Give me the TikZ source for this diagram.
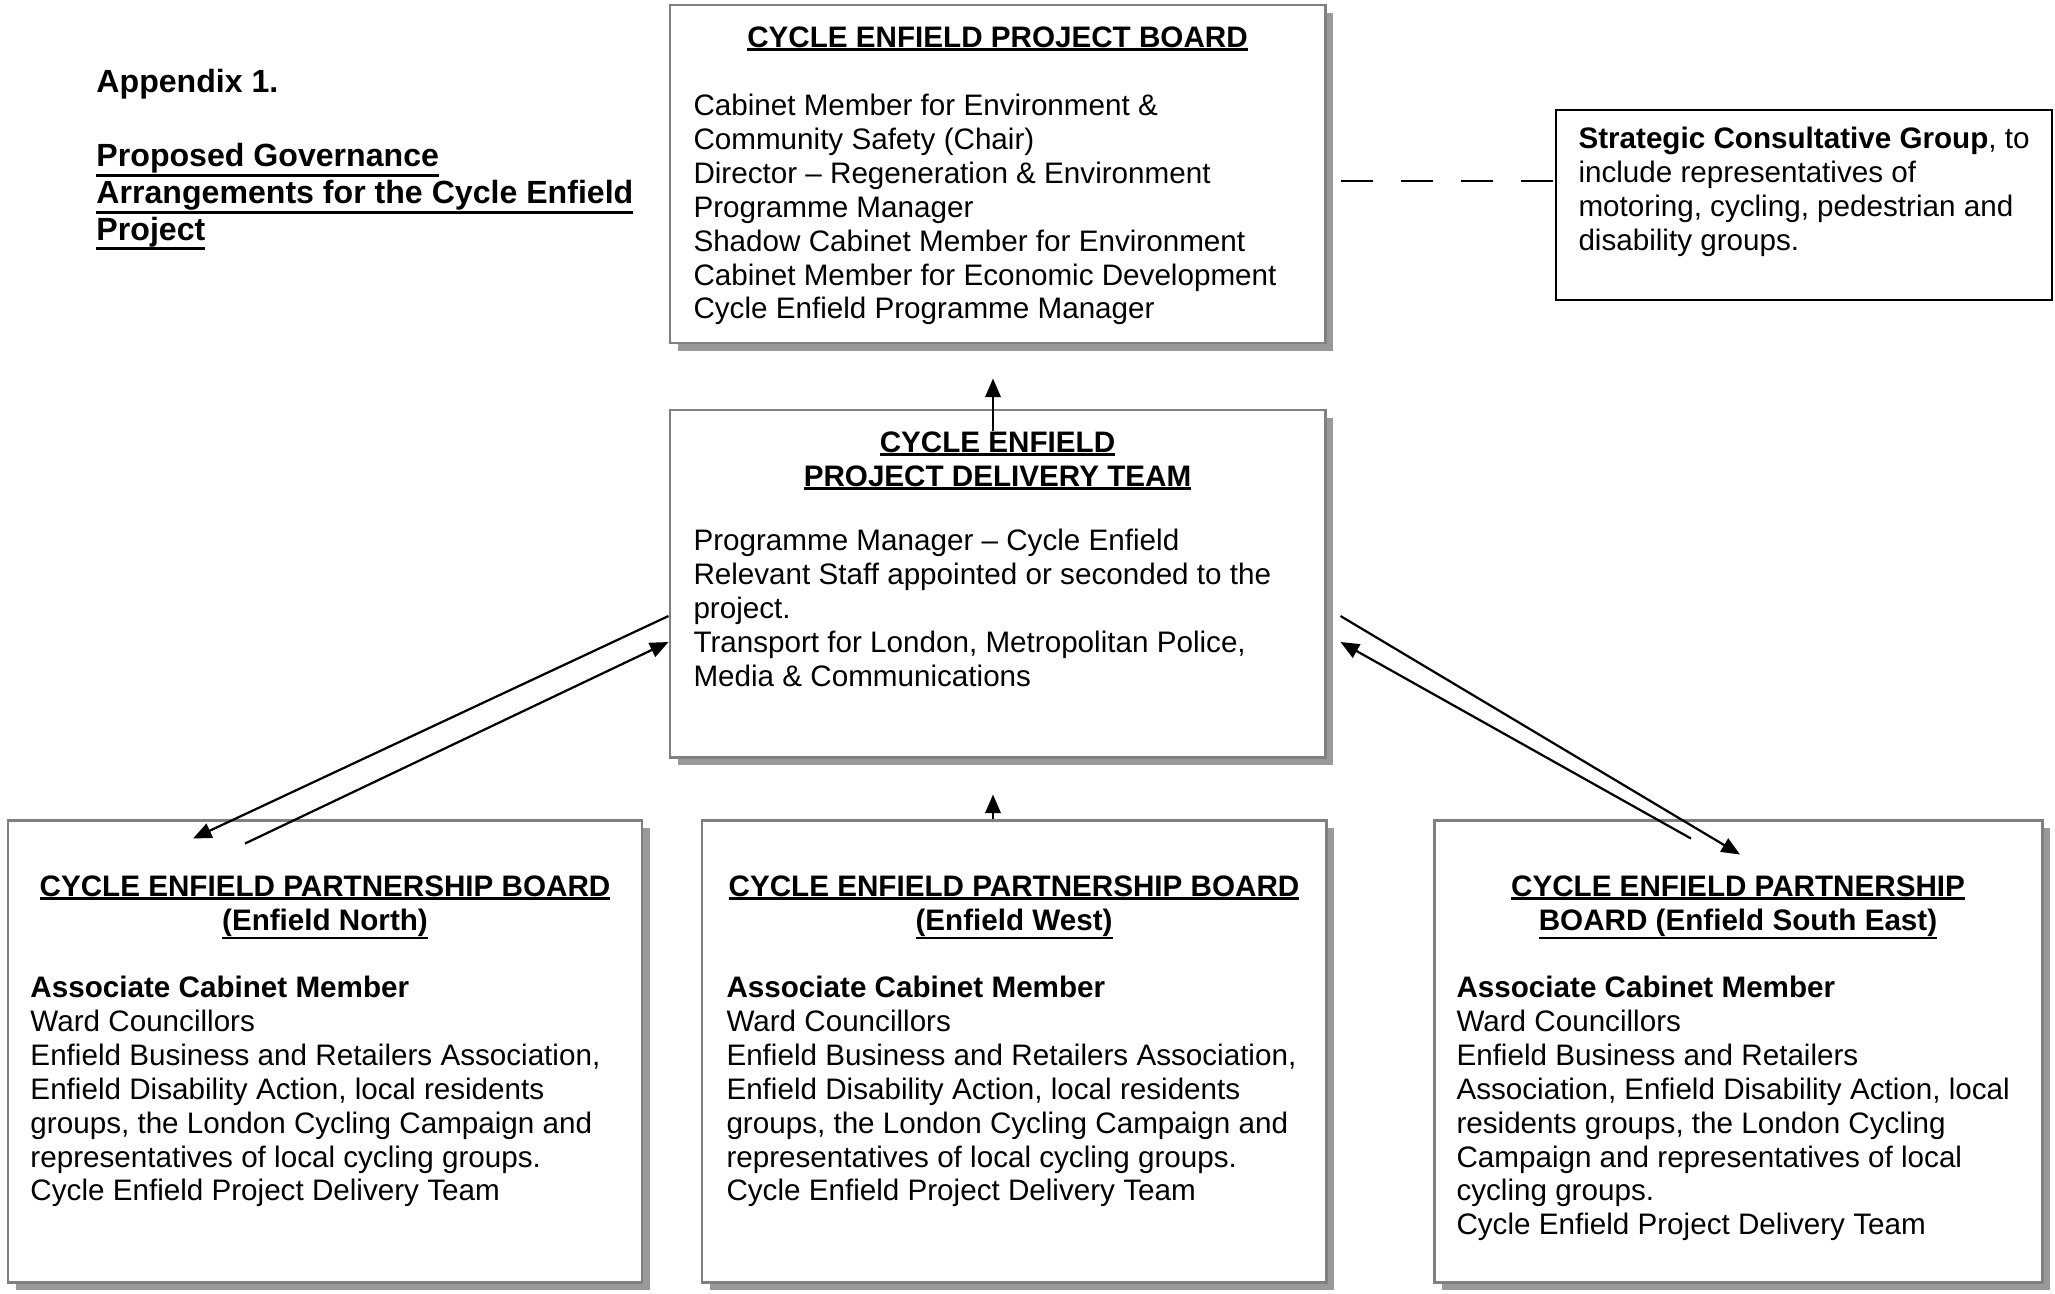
\documentclass[tikz,border=0pt]{standalone}
\usepackage{fontspec}
\setmainfont{Liberation Sans}
\usepackage{tikz}
\usetikzlibrary{arrows.meta,positioning,calc,shadows}

\newcommand{\pw}{0.405pt}
\newcommand{\boxfont}{\fontsize{12}{13.7}\selectfont}
\newsavebox{\ulbox}
\newcommand{\tul}[1]{\leavevmode\sbox{\ulbox}{#1}%
  \rlap{\rule[\dimexpr-\dp\ulbox-1.3pt\relax]{\wd\ulbox}{1.1pt}}\usebox{\ulbox}}

\begin{document}
\begin{tikzpicture}[x=0.405pt, y=-0.405pt, font=\boxfont,
  box/.style={draw=black!50, line width=1.2pt, fill=white, inner sep=0pt,
    drop shadow={shadow xshift=3.2pt, shadow yshift=-3.2pt, fill=black!40, opacity=1}},
  plainbox/.style={draw=black, line width=0.6pt, fill=white, inner sep=0pt},
  title/.style={font=\boxfont\bfseries, align=center, inner sep=0pt, anchor=north},
  body/.style={font=\boxfont, align=left, inner sep=0pt, anchor=north west},
  arr/.style={-{Triangle[length=7.5pt, width=6.2pt]}, line width=0.9pt},
  link/.style={line width=0.6pt, dash pattern=on 13pt off 11.3pt}]
\useasboundingbox (0,0) rectangle (2055,1293);
% ================= heading =================
\node[body, font=\fontsize{13}{14.9}\selectfont\bfseries] (appx) at (96,69) {Appendix 1.};
\node[body, font=\fontsize{13}{14.9}\selectfont\bfseries] (heading) at (96,143)
  {\tul{Proposed Governance}\\ \tul{Arrangements for the Cycle Enfield}\\ \tul{Project}};
% ================= project board =================
\node[box, minimum width=655*\pw, minimum height=338*\pw] (board) at (997.5,174) {};
\node[title] (boardtitle) at (997.5,26) {\tul{CYCLE ENFIELD PROJECT BOARD}};
\node[body] (boardtext) at (693,94)
  {Cabinet Member for Environment \&\\ Community Safety (Chair)\\
   Director -- Regeneration \& Environment\\ Programme Manager\\
   Shadow Cabinet Member for Environment\\ Cabinet Member for Economic Development\\
   Cycle Enfield Programme Manager};
% --- strategic group ---
\node[plainbox, minimum width=496*\pw, minimum height=190*\pw] (scg) at (1804,205) {};
\node[body] (scgtext) at (1578,127)
  {\textbf{Strategic Consultative Group}, to\\ include representatives of\\
   motoring, cycling, pedestrian and\\ disability groups.};
% ================= delivery team =================
\node[box, minimum width=655*\pw, minimum height=347*\pw] (team) at (997.5,583.5) {};
\node[title] (teamtitle) at (997.5,431)
  {\tul{CYCLE ENFIELD}\\ \tul{PROJECT DELIVERY TEAM}};
\node[body] (teamtext) at (693,529)
  {Programme Manager -- Cycle Enfield\\ Relevant Staff appointed or seconded to the\\
   project.\\ Transport for London, Metropolitan Police,\\ Media \& Communications};
% ================= partnership boards =================
\node[box, minimum width=634*\pw, minimum height=462*\pw] (north) at (325,1051) {};
\node[title] (northtitle) at (325,875)
  {\tul{CYCLE ENFIELD PARTNERSHIP BOARD}\\ \tul{(Enfield North)}};
\node[body] (northtext) at (30,976)
  {\textbf{Associate Cabinet Member}\\ Ward Councillors\\
   Enfield Business and Retailers Association,\\ Enfield Disability Action, local residents\\
   groups, the London Cycling Campaign and\\ representatives of local cycling groups.\\
   Cycle Enfield Project Delivery Team};
\node[box, minimum width=624*\pw, minimum height=462*\pw] (west) at (1014,1051) {};
\node[title] (westtitle) at (1014,875)
  {\tul{CYCLE ENFIELD PARTNERSHIP BOARD}\\ \tul{(Enfield West)}};
\node[body] (westtext) at (726,976)
  {\textbf{Associate Cabinet Member}\\ Ward Councillors\\
   Enfield Business and Retailers Association,\\ Enfield Disability Action, local residents\\
   groups, the London Cycling Campaign and\\ representatives of local cycling groups.\\
   Cycle Enfield Project Delivery Team};
\node[box, minimum width=608*\pw, minimum height=462*\pw] (southeast) at (1738,1051) {};
\node[title] (southeasttitle) at (1738,875)
  {\tul{CYCLE ENFIELD PARTNERSHIP}\\ \tul{BOARD (Enfield South East)}};
\node[body] (southeasttext) at (1456,976)
  {\textbf{Associate Cabinet Member}\\ Ward Councillors\\
   Enfield Business and Retailers\\ Association, Enfield Disability Action, local\\
   residents groups, the London Cycling\\ Campaign and representatives of local\\
   cycling groups.\\ Cycle Enfield Project Delivery Team};
% ================= connectors =================
\draw[link] ($(board.east)+(14,7)$) -- ($(scg.west)+(0,-24)$);
\draw[arr] ($(team.north)+(-4.5,22)$) -- ($(board.south)+(-4.5,34)$);
\draw[arr] ($(west.north)+(-21,0)$) -- ($(team.south)+(-4.5,36)$);
% left pair
\draw[arr] ($(team.west)+(0,32.5)$) -- ($(north.north)+(-132,20)$);
\draw[arr] ($(north.north)+(-80,25)$) -- ($(team.west)+(0,58.5)$);
% right pair
\draw[arr] ($(team.east)+(14,32.5)$) -- ($(southeast.north)+(2,36)$);
\draw[arr] ($(southeast.north)+(-47,20)$) -- ($(team.east)+(14,58.5)$);
\end{tikzpicture}
\end{document}
